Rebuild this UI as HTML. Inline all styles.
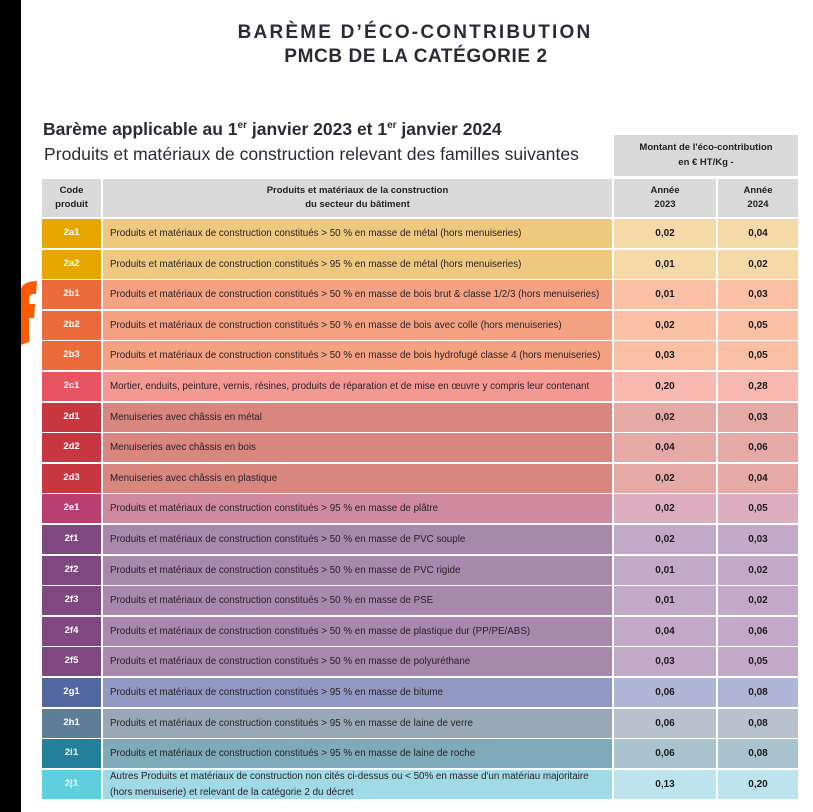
<!DOCTYPE html>
<html><head><meta charset="utf-8"><style>
*{margin:0;padding:0;box-sizing:border-box}
body{width:813px;height:812px;background:#fff;position:relative;overflow:hidden;font-family:"Liberation Sans",sans-serif;color:#222}
.a{position:absolute}
.c{position:absolute;display:flex;align-items:center;justify-content:center;text-align:center;font-size:9.5px;line-height:1.5}
.d{position:absolute;display:flex;align-items:center;padding-left:7px;font-size:9.8px;line-height:1.55;color:#2a2228;white-space:nowrap}
.code{color:#fff;font-weight:bold}
.v{font-weight:bold;color:#1e1a1e;font-size:10px}
.h{background:#d9d9d9;font-weight:bold;color:#222}
</style></head><body>
<div class="a" style="left:0;top:0;width:21px;height:812px;background:#000"></div>
<svg class="a" style="left:21px;top:280px" width="18" height="66"><path d="M0 8 Q4 1 16 1 L15 14 Q9 13 8 18 L8 24 L14 24 L13 38 L8 38 L8 62 L0 65 Z" fill="#ff5a00"/></svg>
<div class="a" style="left:0;top:22px;width:830px;text-align:center;font-weight:bold;font-size:19px;letter-spacing:2.2px;color:#2b2b38">BARÈME D’ÉCO-CONTRIBUTION</div>
<div class="a" style="left:0;top:46px;width:832px;text-align:center;font-weight:bold;font-size:19px;letter-spacing:0.6px;color:#2b2b38">PMCB DE LA CATÉGORIE 2</div>
<div class="a" style="left:43px;top:119px;font-weight:bold;font-size:17.5px;color:#2b2b38;white-space:nowrap">Barème applicable au 1<sup style="font-size:10px">er</sup> janvier 2023 et 1<sup style="font-size:10px">er</sup> janvier 2024</div>
<div class="a" style="left:44px;top:144px;font-size:17.6px;color:#2b2b38;white-space:nowrap;letter-spacing:0px">Produits et matériaux de construction relevant des familles suivantes</div>
<div class="c h" style="left:614px;top:135px;width:184px;height:41px">Montant de l'éco-contribution<br>en € HT/Kg -</div>
<div class="c h" style="left:42px;top:179px;width:59px;height:38px">Code<br>produit</div>
<div class="c h" style="left:103px;top:179px;width:509px;height:38px">Produits et matériaux de la construction<br>du secteur du bâtiment</div>
<div class="c h" style="left:614px;top:179px;width:102px;height:38px">Année<br>2023</div>
<div class="c h" style="left:718px;top:179px;width:80px;height:38px">Année<br>2024</div>
<div id="rows"></div>
<script>
var R=[
["2a1","Produits et matériaux de construction constitués > 50 % en masse de métal (hors menuiseries)","0,02","0,04",0],
["2a2","Produits et matériaux de construction constitués > 95 % en masse de métal (hors menuiseries)","0,01","0,02",0],
["2b1","Produits et matériaux de construction constitués > 50 % en masse de bois brut &amp; classe 1/2/3 (hors menuiseries)","0,01","0,03",1],
["2b2","Produits et matériaux de construction constitués > 50 % en masse de bois avec colle (hors menuiseries)","0,02","0,05",1],
["2b3","Produits et matériaux de construction constitués > 50 % en masse de bois hydrofugé classe 4 (hors menuiseries)","0,03","0,05",1],
["2c1","Mortier, enduits, peinture, vernis, résines, produits de réparation et de mise en œuvre y compris leur contenant","0,20","0,28",2],
["2d1","Menuiseries avec châssis en métal","0,02","0,03",3],
["2d2","Menuiseries avec châssis en bois","0,04","0,06",3],
["2d3","Menuiseries avec châssis en plastique","0,02","0,04",3],
["2e1","Produits et matériaux de construction constitués > 95 % en masse de plâtre","0,02","0,05",4],
["2f1","Produits et matériaux de construction constitués > 50 % en masse de PVC souple","0,02","0,03",5],
["2f2","Produits et matériaux de construction constitués > 50 % en masse de PVC rigide","0,01","0,02",5],
["2f3","Produits et matériaux de construction constitués > 50 % en masse de PSE","0,01","0,02",5],
["2f4","Produits et matériaux de construction constitués > 50 % en masse de plastique dur (PP/PE/ABS)","0,04","0,06",5],
["2f5","Produits et matériaux de construction constitués > 50 % en masse de polyuréthane","0,03","0,05",5],
["2g1","Produits et matériaux de construction constitués > 95 % en masse de bitume","0,06","0,08",6],
["2h1","Produits et matériaux de construction constitués > 95 % en masse de laine de verre","0,06","0,08",7],
["2i1","Produits et matériaux de construction constitués > 95 % en masse de laine de roche","0,06","0,08",8],
["2j1","Autres Produits et matériaux de construction non cités ci-dessus ou &lt; 50% en masse d'un matériau majoritaire<br>(hors menuiserie) et relevant de la catégorie 2 du décret","0,13","0,20",9]];
var C=[["#e6a800","#eec87e","#f5d9a8"],["#ec6b3c","#f4a282","#f9c0a6"],["#e85462","#f49892","#f8b8b0"],["#c8363f","#d9867e","#e6aaa6"],["#b93f70","#cf8aa0","#ddaec0"],["#804880","#a888ac","#c2a9c8"],["#5468a0","#9199c2","#b0b6d6"],["#5e7e98","#99a8b6","#b8c2cc"],["#22809a","#7eaaba","#a8c2ce"],["#5ecfde","#a0dae6","#bde4ec"]];
var h="";
for(var i=0;i<R.length;i++){var r=R[i],c=C[r[4]];var y=Math.round(219+i*30.6);var hh=(i==18)?29:28.6;
h+='<div class="c code" style="left:42px;top:'+y+'px;width:59px;height:'+hh+'px;background:'+c[0]+'">'+r[0]+'</div>';
h+='<div class="d" style="left:103px;top:'+y+'px;width:509px;height:'+hh+'px;background:'+c[1]+(i==18?';font-size:9.8px;line-height:1.6':'')+'">'+r[1]+'</div>';
h+='<div class="c v" style="left:614px;top:'+y+'px;width:102px;height:'+hh+'px;background:'+c[2]+'">'+r[2]+'</div>';
h+='<div class="c v" style="left:718px;top:'+y+'px;width:80px;height:'+hh+'px;background:'+c[2]+'">'+r[3]+'</div>';}
document.getElementById("rows").innerHTML=h;
</script>
</body></html>
